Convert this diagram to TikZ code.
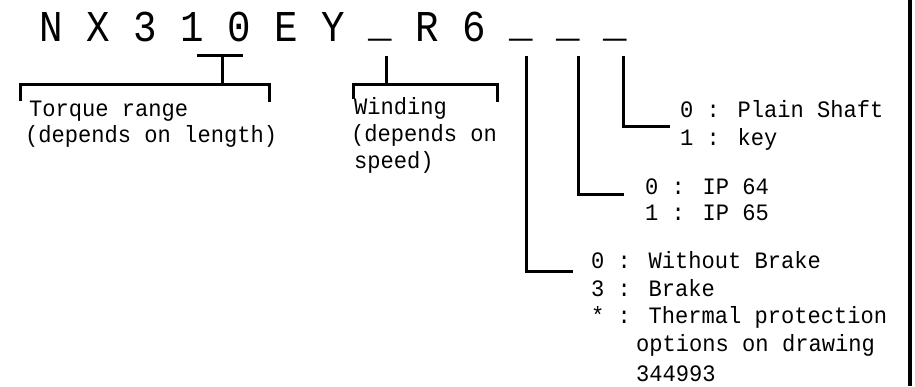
\documentclass[tikz,border=0pt]{standalone}
\usepackage{fontspec}
\newfontfamily\titlefont[FakeStretch=0.89]{Liberation Mono}
\newfontfamily\labelfont[FakeStretch=0.94]{Liberation Mono}
\newcommand\uscore{\raisebox{5.5pt}{\_}}
\begin{document}
\begin{tikzpicture}[x=1pt,y=-1pt,
  lbl/.style={font=\labelfont\fontsize{23.5}{28}\selectfont, anchor=base west, inner sep=0pt},
  ttl/.style={font=\titlefont\fontsize{44}{50}\selectfont, anchor=base west, inner sep=0pt},
  ln/.style={line width=3pt, line join=miter}]
\useasboundingbox (0,0) rectangle (915,386);
% title code
\node[ttl] (title) at (39.25,41.7) {N X 3 1 0 E Y \uscore{} R 6 \uscore{} \uscore{} \uscore{}};
% named points
\coordinate (tqL) at (197,55);
\coordinate (tqR) at (243,55);
\coordinate (tqTop) at (222,55);
\coordinate (tqMid) at (222,84);
\coordinate (tqA) at (20,101);
\coordinate (tqB) at (20,84);
\coordinate (tqC) at (269,84);
\coordinate (tqD) at (269,102);
\coordinate (wdTop) at (386,56);
\coordinate (wdMid) at (386,84);
\coordinate (wdA) at (353,99);
\coordinate (wdB) at (353,84);
\coordinate (wdC) at (497,84);
\coordinate (wdD) at (497,102);
\coordinate (brTop) at (526,56);
\coordinate (brCorner) at (526,271);
\coordinate (brEnd) at (573,271);
\coordinate (ipTop) at (578,56);
\coordinate (ipCorner) at (578,194);
\coordinate (ipEnd) at (624,194);
\coordinate (shTop) at (623,56);
\coordinate (shCorner) at (623,126);
\coordinate (shEnd) at (670,126);
% connectors
\draw[ln] (tqL) -- (tqR);
\draw[ln] (tqTop) -- (tqMid);
\draw[ln] (tqA) -- (tqB) -- (tqC) -- (tqD);
\draw[ln] (wdTop) -- (wdMid);
\draw[ln] (wdA) -- (wdB) -- (wdC) -- (wdD);
\draw[ln] (brTop) -- (brCorner) -- (brEnd);
\draw[ln] (ipTop) -- (ipCorner) -- (ipEnd);
\draw[ln] (shTop) -- (shCorner) -- (shEnd);
% labels
\node[lbl] (tq1) at (29,116) {Torque range};
\node[lbl] (tq2) at (25,142) {(depends on length)};
\node[lbl] (wd1) at (354,114) {Winding};
\node[lbl] (wd2) at (351,141) {(depends on};
\node[lbl] (wd3) at (354,168) {speed)};
\node[lbl] (sh1) at (680,117) {0 : Plain Shaft};
\node[lbl] (sh2) at (680,145) {1 : key};
\node[lbl] (ip1) at (645,194) {0 : IP 64};
\node[lbl] (ip2) at (645,220) {1 : IP 65};
\node[lbl] (br1) at (591,268) {0 : Without Brake};
\node[lbl] (br2) at (591,296) {3 : Brake};
\node[lbl] (br3) at (591,323) {* : Thermal protection};
\node[lbl] (br4) at (636,351) {options on drawing};
\node[lbl] (br5) at (636,381) {344993};
% right border
\draw[line width=3.5pt] (910,0) -- (910,386);
\end{tikzpicture}
\end{document}
